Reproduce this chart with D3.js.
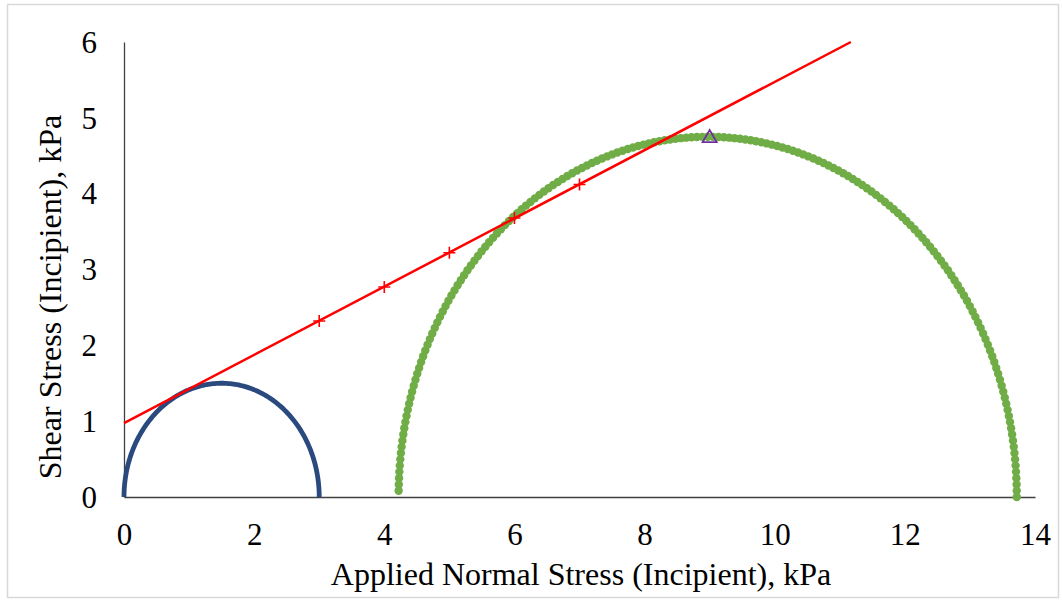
<!DOCTYPE html>
<html>
<head>
<meta charset="utf-8">
<script src="https://cdn.jsdelivr.net/npm/d3@7"></script>
<style>
  body { margin: 0; background: #fff; }
  svg text { font-family: "Liberation Serif", "Times New Roman", serif; fill: #000; }
</style>
</head>
<body>
<svg id="chart"></svg>
<script>
var viewWidth = 1062;
var viewHeight = 601;

// Mohr circles: minor and major principal stress (kPa)
var circleNames = ["small", "large"];
var sigma3 = [0, 4.22];
var sigma1 = [3.0, 13.72];
var circleColors = ["#2a4a7f", "#70ad47"];

// measured points on the failure envelope
var pointX = [3, 4, 5, 6, 7];
var pointY = [2.32, 2.77, 3.22, 3.68, 4.12];

// failure envelope end points
var envX = [0, 11.17];
var envY = [0.975, 6];

// peak marker
var peakX = [9];
var peakY = [4.76];

var xTicks = [0, 2, 4, 6, 8, 10, 12, 14];
var yTicks = [0, 1, 2, 3, 4, 5, 6];

var margin = {top: 42, right: 27, bottom: 104, left: 124};
var width = viewWidth - margin.left - margin.right;
var height = viewHeight - margin.top - margin.bottom;

var svg = d3.select("#chart")
    .attr("width", viewWidth)
    .attr("height", viewHeight);

// outer frame
svg.append("rect")
    .attr("x", 7.5).attr("y", 4.5)
    .attr("width", 1051).attr("height", 593)
    .attr("fill", "#fff")
    .attr("stroke", "#d9d9d9")
    .attr("stroke-width", 1.5);

var g = svg.append("g")
    .attr("transform", "translate(" + margin.left + "," + margin.top + ")");

var x = d3.scaleLinear().domain([0, 14]).range([0, width]);
var y = d3.scaleLinear().domain([0, 6]).range([height, 0]);

var xAxis = d3.axisBottom(x).tickValues(xTicks).tickFormat(d3.format("d")).tickSize(0).tickPadding(32);
var yAxis = d3.axisLeft(y).tickValues(yTicks).tickFormat(d3.format("d")).tickSize(0).tickPadding(27);

g.append("g")
    .attr("class", "x axis")
    .attr("transform", "translate(0," + height + ")")
    .call(xAxis);

g.append("g")
    .attr("class", "y axis")
    .call(yAxis);

g.selectAll(".axis path").attr("stroke", "#404040").attr("stroke-width", 1.3);
g.selectAll(".axis").attr("font-size", null).attr("font-family", null);
g.selectAll(".axis text").style("font-size", "31px");
g.selectAll(".y.axis text").attr("dy", "0.33em");
g.selectAll(".x.axis text").attr("dy", "0.5em");

// axis titles
svg.append("text")
    .attr("x", 581)
    .attr("y", 585)
    .attr("text-anchor", "middle")
    .style("font-size", "32px")
    .text("Applied Normal Stress (Incipient), kPa");

svg.append("text")
    .attr("transform", "translate(61,297) rotate(-90)")
    .attr("text-anchor", "middle")
    .style("font-size", "32px")
    .text("Shear Stress (Incipient), kPa");

// points along a Mohr semicircle, in stress units
function circlePoints(s3, s1, step) {
  var c = (s1 + s3) / 2, r = (s1 - s3) / 2, pts = [];
  for (var a = 0; a <= 180; a += step) {
    var t = a * Math.PI / 180;
    pts.push({x: c - r * Math.cos(t), y: r * Math.sin(t)});
  }
  return pts;
}

// large circle drawn as dots
var bigPts = circlePoints(sigma3[1], sigma1[1], 1).filter(function(d) { return d.y > 0.08 || d.x > 9; });
g.selectAll(".dot")
    .data(bigPts)
  .enter().append("circle")
    .attr("class", "dot")
    .attr("r", 4.2)
    .attr("cx", function(d) { return x(d.x); })
    .attr("cy", function(d) { return y(d.y); })
    .style("fill", circleColors[1]);

// small circle drawn as a thick line
var line = d3.line()
    .x(function(d) { return x(d.x); })
    .y(function(d) { return y(d.y); });

g.append("path")
    .datum(circlePoints(sigma3[0], sigma1[0], 1))
    .attr("d", line)
    .attr("fill", "none")
    .attr("stroke", circleColors[0])
    .attr("stroke-width", 4.8);

// failure envelope
g.append("path")
    .datum(envX.map(function(v, i) { return {x: v, y: envY[i]}; }))
    .attr("d", line)
    .attr("fill", "none")
    .attr("stroke", "#ff0000")
    .attr("stroke-width", 2.5);

// + markers
g.selectAll(".pt")
    .data(pointX)
  .enter().append("path")
    .attr("class", "pt")
    .attr("d", "M-6,0H6M0,-6V6")
    .attr("transform", function(d, i) { return "translate(" + x(d) + "," + y(pointY[i]) + ")"; })
    .attr("stroke", "#ff0000")
    .attr("stroke-width", 1.6)
    .attr("fill", "none");

// peak triangle
g.selectAll(".peak")
    .data(peakX)
  .enter().append("path")
    .attr("class", "peak")
    .attr("d", "M0,-6L7,6H-7Z")
    .attr("transform", function(d, i) { return "translate(" + x(d) + "," + y(peakY[i]) + ")"; })
    .attr("stroke", "#7030a0")
    .attr("stroke-width", 1.8)
    .attr("fill", "none");
</script>
</body>
</html>
